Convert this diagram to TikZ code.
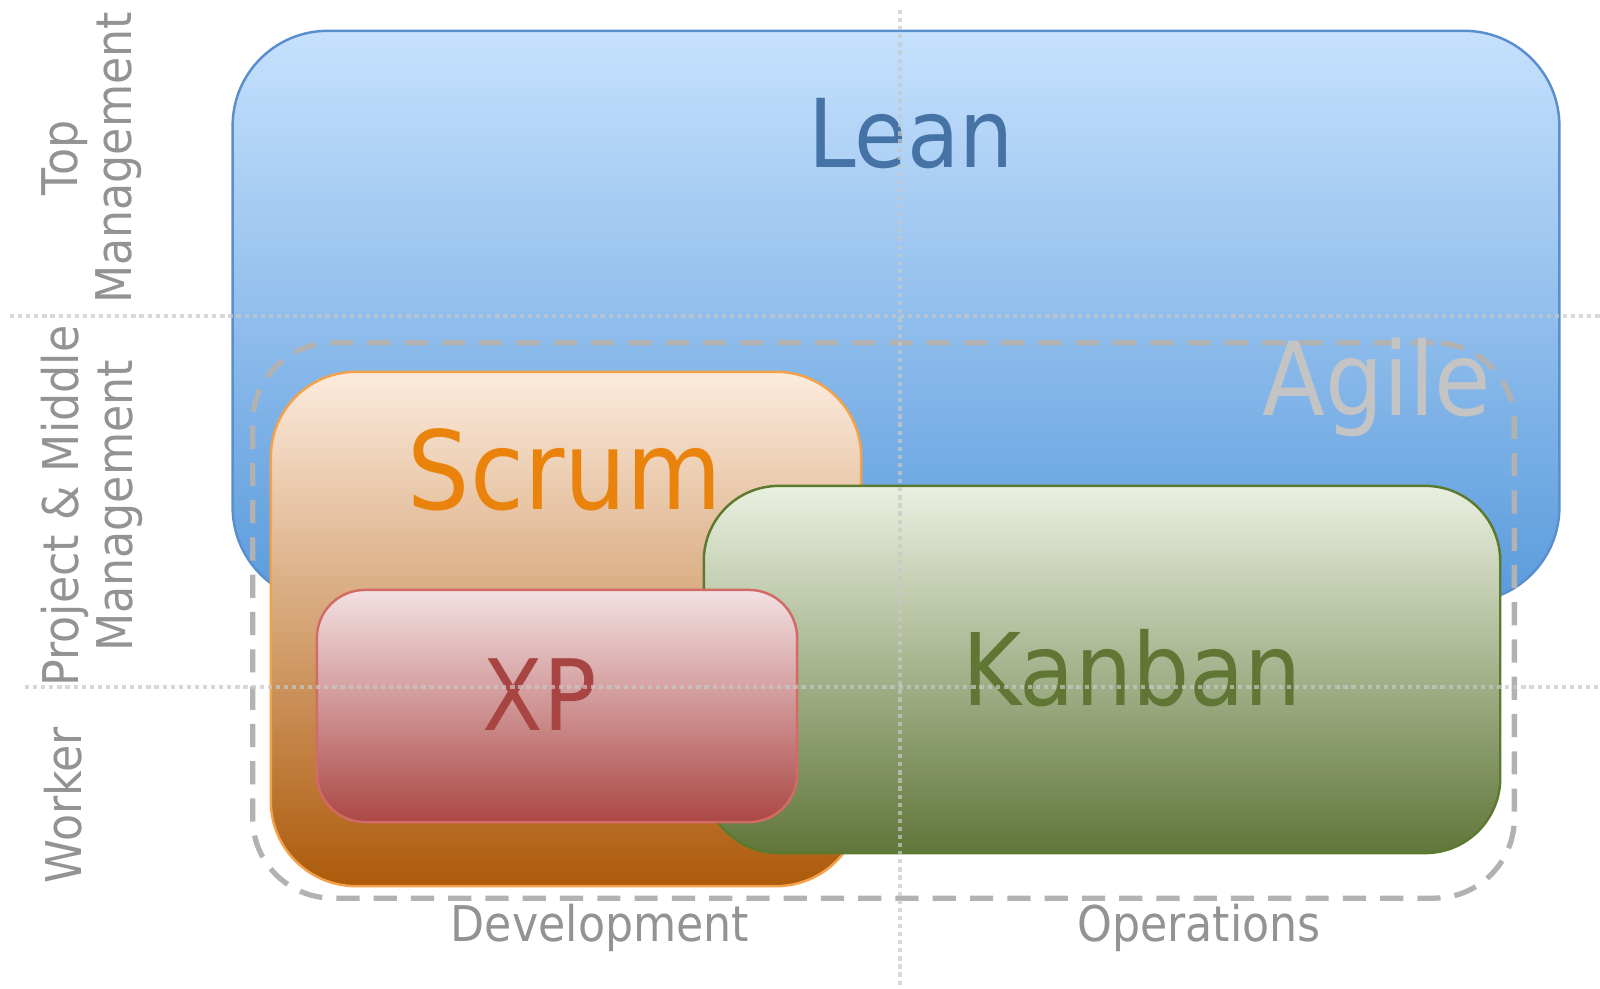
\documentclass[tikz,border=0pt]{standalone}
\usepackage{fontspec}
\setmainfont[FakeStretch=0.9]{DejaVu Sans}
\usepackage{tikz}
\usetikzlibrary{positioning}
\definecolor{leantop}{HTML}{C7E1FD}
\definecolor{leanbot}{HTML}{5A9BDC}
\definecolor{leanline}{HTML}{5A8FCF}
\definecolor{leantext}{HTML}{4673A6}
\definecolor{scrumtop}{HTML}{FCEBDD}
\definecolor{scrumbot}{HTML}{AD5A0A}
\definecolor{scrumline}{HTML}{F5A14A}
\definecolor{scrumtext}{HTML}{E9830C}
\definecolor{kanbantop}{HTML}{EAF0E0}
\definecolor{kanbanbot}{HTML}{61763A}
\definecolor{kanbanline}{HTML}{5B7A2E}
\definecolor{kanbantext}{HTML}{617634}
\definecolor{xptop}{HTML}{F3E1E3}
\definecolor{xpbot}{HTML}{AB4845}
\definecolor{xpline}{HTML}{D36A66}
\definecolor{xptext}{HTML}{A84442}
\definecolor{agilegray}{HTML}{C4C4C4}
\definecolor{dashgray}{HTML}{B2B2B2}
\definecolor{axisgray}{HTML}{939393}
\definecolor{gridgray}{HTML}{C8C8C8}

\begin{document}
\begin{tikzpicture}[line cap=round,line join=round,x=0.01cm,y=-0.01cm,
  box/.style={rectangle,inner sep=0pt,shading=axis,line width=0.7pt},
  boxtext/.style={anchor=base,inner sep=0pt},
  axislabel/.style={color=axisgray,font=\fontsize{14}{15.4}\selectfont,align=center,inner sep=0pt},
  gridline/.style={color=gridgray,opacity=0.7,line width=1.2pt,line cap=butt,dash pattern=on 1.2pt off 1.1pt}]
\useasboundingbox (0,0) rectangle (1600,989);
\node[box,draw=leanline,top color=leantop,bottom color=leanbot,rounded corners=0.95cm,
  minimum width=13.26cm,minimum height=5.71cm] (lean) at (896,316.5) {};
\node[boxtext,color=leantext,font=\fontsize{27}{30}\selectfont] (leanlabel) at (911,168) {Lean};
\node[rectangle,draw=dashgray,line width=1.5pt,line cap=butt,dash pattern=on 6.6pt off 4pt,rounded corners=0.8cm,
  minimum width=12.61cm,minimum height=5.55cm,inner sep=0pt] (agile) at (883.5,620.5) {};
\node[boxtext,color=agilegray,font=\fontsize{29}{32}\selectfont] (agilelabel) at (1377,416) {Agile};
\node[box,draw=scrumline,top color=scrumtop,bottom color=scrumbot,rounded corners=0.85cm,
  minimum width=5.90cm,minimum height=5.14cm] (scrum) at (566,629) {};
\node[boxtext,color=scrumtext,font=\fontsize{31}{34}\selectfont] (scrumlabel) at (565,510) {Scrum};
\node[box,draw=kanbanline,top color=kanbantop,bottom color=kanbanbot,rounded corners=0.75cm,
  minimum width=7.96cm,minimum height=3.67cm] (kanban) at (1102,669.5) {};
\node[boxtext,color=kanbantext,font=\fontsize{28.5}{32}\selectfont] (kanbanlabel) at (1132,706) {Kanban};
\node[box,draw=xpline,top color=xptop,bottom color=xpbot,rounded corners=0.48cm,
  minimum width=4.80cm,minimum height=2.32cm] (xp) at (557,706) {};
\node[boxtext,color=xptext,font=\fontsize{28}{31}\selectfont] (xplabel) at (540,731) {XP};
\coordinate (topw) at (10,316);
\coordinate (tope) at (1600,316);
\coordinate (midw) at (25,687);
\coordinate (mide) at (1600,687);
\coordinate (vn) at (900,10);
\coordinate (vs) at (900,989);
\draw[gridline] (topw) -- (tope);
\draw[gridline] (midw) -- (mide);
\draw[gridline] (vn) -- (vs);
\node[axislabel,anchor=base] (dev) at (600,942) {Development};
\node[axislabel,anchor=base] (ops) at (1199,942) {Operations};
\node[axislabel,rotate=90] (topmgmt) at (92,158) {Top\\Management};
\node[axislabel,rotate=90] (midmgmt) at (92,506) {Project \& Middle\\Management};
\node[axislabel,rotate=90] (worker) at (63,805) {Worker};
\end{tikzpicture}
\end{document}
